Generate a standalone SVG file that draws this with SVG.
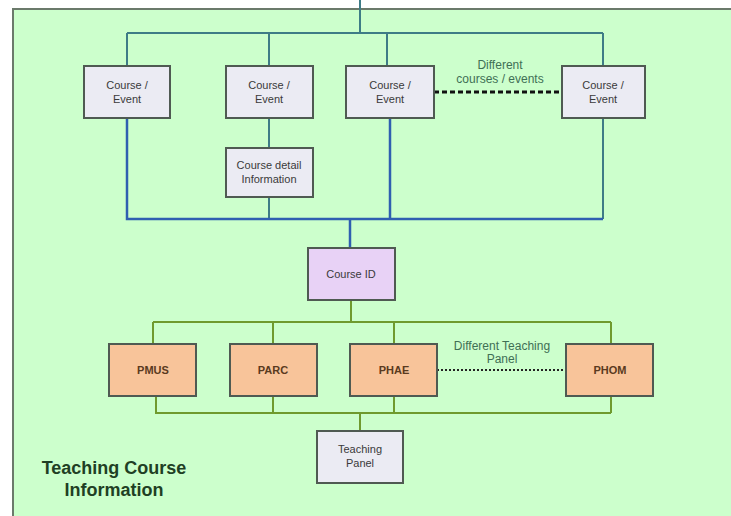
<svg xmlns="http://www.w3.org/2000/svg" width="731" height="516" viewBox="0 0 731 516">
<style>
.box{stroke:#4f5a52;stroke-width:2}
.ce{fill:#ebebf3}
.or{fill:#f8c49a}
.t{font-family:"Liberation Sans",Arial,sans-serif;font-size:11px;fill:#3a3a3a;text-anchor:middle}
.tb{font-family:"Liberation Sans",Arial,sans-serif;font-size:11px;fill:#5a3a20;text-anchor:middle;font-weight:bold}
.lbl{font-family:"Liberation Sans",Arial,sans-serif;font-size:12px;fill:#3f6f55;text-anchor:middle}
.ttl{font-family:"Liberation Sans",Arial,sans-serif;font-size:18px;font-weight:bold;fill:#1f3f24;text-anchor:middle}
.teal{stroke:#3e7c86;stroke-width:2;fill:none}
.blue{stroke:#2f5fb0;stroke-width:2.5;fill:none}
.grn{stroke:#6f9a2e;stroke-width:2;fill:none}
</style>
<rect x="0" y="0" width="731" height="516" fill="#ffffff"/>
<rect x="13" y="9" width="730" height="520" fill="#ccffcc" stroke="#6b7a6b" stroke-width="2"/>
<g id="connectors">
<path class="teal" d="M360 0V33M127 33H603M127 33V66M269 33V66M387 33V66M603 33V66M269 118V148M269 197V219M603 118V219"/>
<path class="blue" d="M127 118V219H603M390 118V219M350 219V248"/>
<path class="grn" d="M351 300V322M153 322H611M153 322V344M273 322V344M394 322V344M611 322V344M156 396V413H611M273 396V413M394 396V413M611 396V413M360 413V431"/>
<path d="M434 92H562" stroke="#111" stroke-width="3" stroke-dasharray="5,3" fill="none"/>
<path d="M437 370H566" stroke="#222" stroke-width="2" stroke-dasharray="2,2" fill="none"/>
</g>
<g id="ce1"><rect class="box ce" x="84" y="66" width="86" height="52"/><text class="t" x="127" y="89">Course /</text><text class="t" x="127" y="103">Event</text></g>
<g id="ce2"><rect class="box ce" x="226" y="66" width="87" height="52"/><text class="t" x="269" y="89">Course /</text><text class="t" x="269" y="103">Event</text></g>
<g id="ce3"><rect class="box ce" x="346" y="66" width="88" height="52"/><text class="t" x="390" y="89">Course /</text><text class="t" x="390" y="103">Event</text></g>
<g id="ce4"><rect class="box ce" x="562" y="66" width="83" height="52"/><text class="t" x="603" y="89">Course /</text><text class="t" x="603" y="103">Event</text></g>
<g id="detail"><rect class="box ce" x="226" y="148" width="87" height="49"/><text class="t" x="269" y="169">Course detail</text><text class="t" x="269" y="183">Information</text></g>
<g id="lbl1"><text class="lbl" x="500" y="69">Different</text><text class="lbl" x="500" y="83">courses / events</text></g>
<g id="courseid"><rect class="box" fill="#e8d2f6" x="308" y="248" width="87" height="52"/><text class="t" x="351" y="278">Course ID</text></g>
<g id="pmus"><rect class="box or" x="109" y="344" width="87" height="52"/><text class="tb" x="153" y="374">PMUS</text></g>
<g id="parc"><rect class="box or" x="230" y="344" width="87" height="52"/><text class="tb" x="273" y="374">PARC</text></g>
<g id="phae"><rect class="box or" x="350" y="344" width="87" height="52"/><text class="tb" x="394" y="374">PHAE</text></g>
<g id="phom"><rect class="box or" x="566" y="344" width="87" height="52"/><text class="tb" x="610" y="374">PHOM</text></g>
<g id="lbl2"><text class="lbl" x="502" y="350">Different Teaching</text><text class="lbl" x="502" y="363">Panel</text></g>
<g id="panel"><rect class="box ce" x="317" y="431" width="86" height="52"/><text class="t" x="360" y="453">Teaching</text><text class="t" x="360" y="467">Panel</text></g>
<g id="title"><text class="ttl" x="114" y="474">Teaching Course</text><text class="ttl" x="114" y="496">Information</text></g>
</svg>
